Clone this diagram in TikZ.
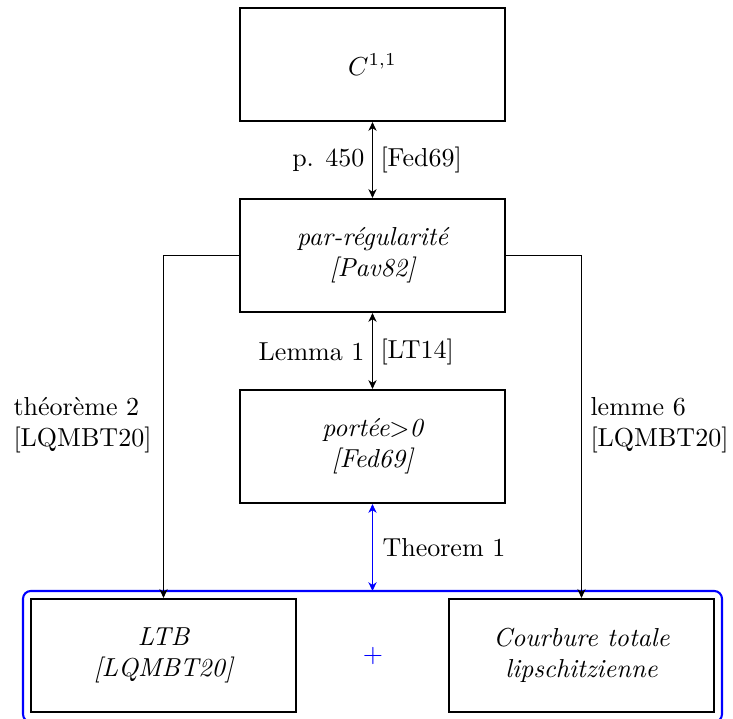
\documentclass[tikz,border=0pt]{standalone}
\usetikzlibrary{arrows.meta}
\begin{document}
\begin{tikzpicture}[x=0.3846pt,y=-0.3846pt,
  box/.style={draw,line width=0.8pt,minimum width=101.9pt,minimum height=43.5pt,inner sep=0pt,align=center,font=\itshape},
  conn/.style={line width=0.4pt,{Stealth[length=3.4pt,width=3.2pt]}-{Stealth[length=3.4pt,width=3.2pt]}},
  oneway/.style={line width=0.4pt,-{Stealth[length=3.4pt,width=3.2pt]}},
  lbl/.style={inner sep=0pt,align=left}]
\useasboundingbox (0,0) rectangle (733,719);
\node[box] (c11) at (372.5,64.5) {$C^{1,1}$};
\node[box] (par) at (372.5,255.5) {par-régularité\\{}[Pav82]};
\node[box] (por) at (372.5,446.5) {portée$>$0\\{}[Fed69]};
\node[box] (ltb) at (163.5,655.5) {LTB\\{}[LQMBT20]};
\node[box] (cou) at (581.5,655.5) {Courbure totale\\lipschitzienne};
\draw[blue,line width=0.8pt,rounded corners=3pt] (23,591) rectangle (722,722);
\coordinate (btop) at (372.5,591);
\node[blue] (plus) at (373,656) {$+$};
\draw[conn] (c11) -- (par);
\node[lbl,anchor=east] (l1) at (365,160) {p. 450};
\node[lbl,anchor=west] (r1) at (380,160) {[Fed69]};
\draw[conn] (par) -- (por);
\node[lbl,anchor=east] (l2) at (365,352) {Lemma 1};
\node[lbl,anchor=west] (r2) at (380,352) {[LT14]};
\draw[conn,blue] (por) -- (btop);
\node[lbl,anchor=west] (r3) at (382,548) {Theorem 1};
\draw[oneway] (par.west) -| (ltb.north);
\draw[oneway] (par.east) -| (cou.north);
\node[lbl,anchor=west] (ll) at (13,425) {théorème 2\\{}[LQMBT20]};
\node[lbl,anchor=west] (rl) at (590,425) {lemme 6\\{}[LQMBT20]};
\end{tikzpicture}
\end{document}
